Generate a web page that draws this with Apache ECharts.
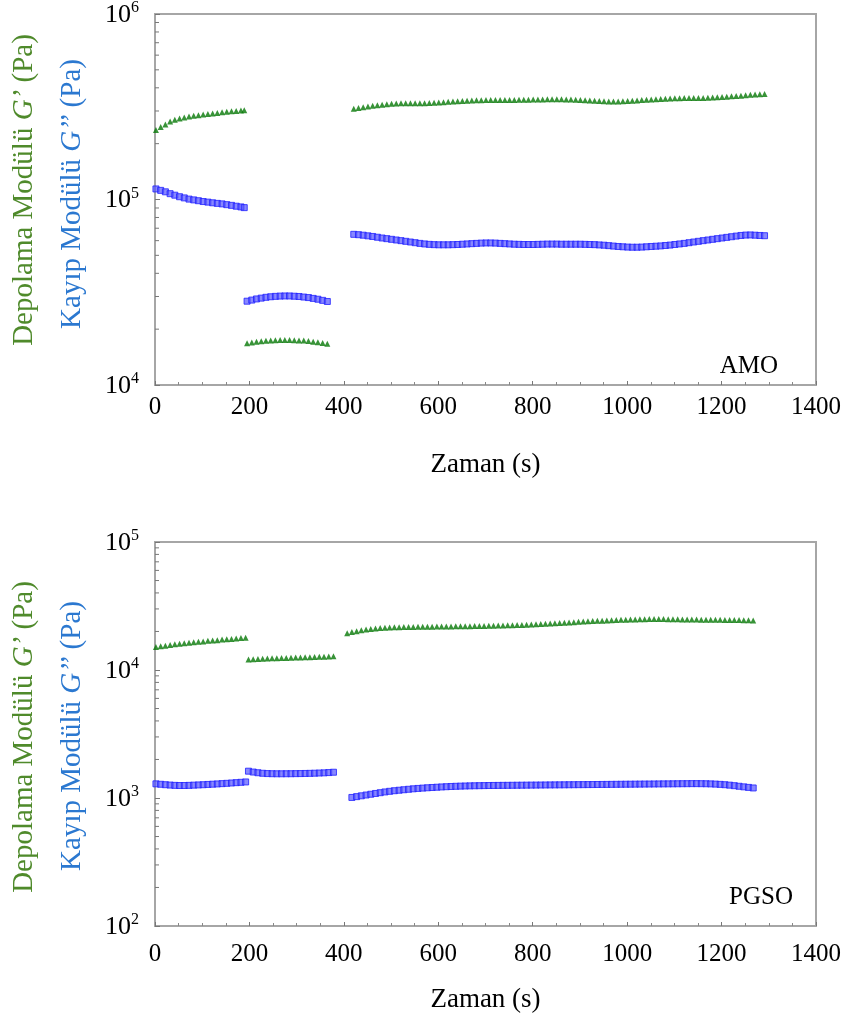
<!DOCTYPE html>
<html><head><meta charset="utf-8">
<script src="https://cdn.jsdelivr.net/npm/echarts@6/dist/echarts.min.js"></script>
<style>html,body{margin:0;padding:0;background:#fff}#c{width:845px;height:1022px}</style>
</head><body><div id="c"></div>
<script>
// ---------- AMO (top chart), G values in kPa ----------
const amoT1 = [2,12,22,32,42,52,62,72,82,92,102,112,122,132,142,152,162,172,182,189];
const amoGp1 = [237,246,254,263,269,273,277,280,283,285,287,289,291,293,295,297,299,300,302,303];
const amoGpp1 = [114,112,110,107.5,105.5,103.5,102,100.5,99.5,98.5,97.5,96.8,96,95.3,94.7,93.8,93,92,91.2,90.4];
const amoT2 = [195,205,215,225,235,245,255,265,275,285,295,305,315,325,335,345,355,365];
const amoGp2 = [16.8,16.95,17.1,17.2,17.3,17.4,17.45,17.5,17.5,17.5,17.45,17.4,17.35,17.25,17.1,17.0,16.85,16.7];
const amoGpp2 = [28.3,28.7,29.1,29.4,29.7,29.9,30.05,30.15,30.2,30.2,30.1,30.0,29.8,29.6,29.3,29.0,28.6,28.2];
const amoT3Start = 421, amoT3Step = 10;
const amoGp3 = [308,311,314,317,320,322,324,326,328,329,330,330,330,330,330,330,331,332,333,334,336,337,339,340,341,342,343,343,344,344,344,344,344,344,344,345,345,345,346,346,346,347,347,347,347,346,346,345,344,343,342,341,340,339,338,338,338,339,340,341,342,344,345,346,347,348,349,350,351,351,352,352,352,352,353,354,355,356,357,358,360,361,363,365,367,368,369,370];
const amoGpp3 = [64.9,64.6,64.2,63.7,63.2,62.6,62.0,61.5,61.0,60.5,60.0,59.5,59.0,58.5,58.0,57.6,57.3,57.1,57.0,57.0,57.0,57.1,57.2,57.4,57.6,57.8,58.0,58.2,58.3,58.3,58.2,58.0,57.8,57.6,57.4,57.3,57.2,57.2,57.2,57.3,57.4,57.5,57.5,57.5,57.4,57.4,57.4,57.4,57.4,57.3,57.2,57.1,56.9,56.7,56.4,56.1,55.8,55.6,55.4,55.3,55.3,55.4,55.6,55.8,56.0,56.2,56.5,56.8,57.2,57.6,58.0,58.5,59.0,59.5,60.0,60.5,61.0,61.5,62.0,62.5,63.0,63.5,64.0,64.3,64.4,64.2,64.0,63.8];

// ---------- PGSO (bottom chart), G' in kPa, G'' in Pa ----------
const pgT1Start = 2, pgT1Step = 10;
const pgGp1 = [15.1,15.3,15.5,15.7,15.9,16.0,16.2,16.3,16.5,16.6,16.7,16.9,17.0,17.1,17.3,17.4,17.5,17.6,17.8,17.9];
const pgGpp1 = [1290,1280,1270,1262,1255,1252,1252,1255,1260,1265,1270,1276,1282,1288,1295,1302,1310,1318,1326,1335];
const pgT2Start = 198, pgT2Step = 10;
const pgGp2 = [12.1,12.15,12.2,12.25,12.3,12.33,12.36,12.4,12.43,12.46,12.5,12.53,12.56,12.6,12.63,12.67,12.7,12.75,12.8];
const pgGpp2 = [1620,1595,1575,1560,1552,1548,1546,1546,1547,1548,1550,1552,1555,1558,1562,1567,1572,1580,1590];
const pgGp3Start = 407, pgGpp3Start = 417, pgT3Step = 10;
const pgGp3 = [19.4,19.8,20.1,20.4,20.7,20.9,21.1,21.3,21.4,21.5,21.6,21.6,21.7,21.7,21.7,21.8,21.8,21.8,21.8,21.9,21.9,21.9,21.9,22.0,22.0,22.0,22.0,22.1,22.1,22.1,22.2,22.2,22.3,22.3,22.4,22.4,22.5,22.5,22.6,22.7,22.8,22.9,23.0,23.1,23.2,23.3,23.4,23.5,23.6,23.8,23.9,24.0,24.1,24.2,24.3,24.4,24.5,24.6,24.7,24.7,24.8,24.8,24.9,24.9,25.0,25.0,25.0,25.0,24.9,24.9,24.9,24.8,24.8,24.8,24.8,24.7,24.7,24.7,24.7,24.7,24.6,24.6,24.6,24.6,24.5,24.5,24.4];
const pgGpp3 = [1010,1025,1040,1055,1070,1085,1100,1115,1128,1140,1150,1160,1170,1180,1188,1195,1202,1208,1214,1220,1225,1230,1234,1238,1241,1244,1246,1248,1250,1252,1253,1254,1255,1256,1257,1258,1259,1260,1261,1262,1263,1264,1265,1266,1267,1268,1269,1270,1271,1272,1273,1274,1275,1276,1277,1278,1279,1280,1281,1282,1283,1284,1285,1286,1287,1288,1289,1290,1291,1292,1293,1294,1295,1295,1294,1292,1289,1284,1278,1270,1260,1248,1235,1222,1210,1198];

// ---------- axes ----------
const xTicks = [0,200,400,600,800,1000,1200,1400];
const amoYExp = [4,5,6];
const pgYExp = [2,3,4,5];
const yTitleGp = ['Depolama Modülü ', 'G’', ' (Pa)'];
const yTitleGpp = ['Kayıp Modülü ', 'G’’', ' (Pa)'];
const panelLabels = ['AMO', 'PGSO'];
const xTitle = 'Zaman (s)';

function pairsList(times, vals, mult){ return vals.map((v,i)=>[times[i], v*mult]); }
function pairsStep(start, step, vals, mult){ return vals.map((v,i)=>[start+i*step, v*mult]); }

const amoGpData = [].concat(pairsList(amoT1,amoGp1,1000), pairsList(amoT2,amoGp2,1000), pairsStep(amoT3Start,amoT3Step,amoGp3,1000));
const amoGppData = [].concat(pairsList(amoT1,amoGpp1,1000), pairsList(amoT2,amoGpp2,1000), pairsStep(amoT3Start,amoT3Step,amoGpp3,1000));
const pgGpData = [].concat(pairsStep(pgT1Start,pgT1Step,pgGp1,1000), pairsStep(pgT2Start,pgT2Step,pgGp2,1000), pairsStep(pgGp3Start,pgT3Step,pgGp3,1000));
const pgGppData = [].concat(pairsStep(pgT1Start,pgT1Step,pgGpp1,1), pairsStep(pgT2Start,pgT2Step,pgGpp2,1), pairsStep(pgGpp3Start,pgT3Step,pgGpp3,1));

function minorLog(exps){ const out=[]; for(let i=0;i<exps.length-1;i++){ for(let k=2;k<=9;k++) out.push([0, k*Math.pow(10,exps[i])]); } return out; }

const FONT = 'Liberation Serif';
const GREEN_T = '#4f8a2b', BLUE_T = '#2b78d0';
const AX = '#a6a6a6';

function yLabel(v){ const e = Math.round(Math.log10(v)); return '{b|10}{s|' + e + '}'; }

function xAxisCfg(gi, margin, gap){
  return {
    type:'value', gridIndex:gi, min:xTicks[0], max:xTicks[xTicks.length-1], interval:200,
    axisLine:{show:true, lineStyle:{color:AX, width:2}},
    axisTick:{show:true, inside:true, length:4, lineStyle:{color:'#777'}},
    minorTick:{show:true, splitNumber:4, length:3, lineStyle:{color:'#888'}},
    splitLine:{show:false},
    axisLabel:{fontFamily:FONT, fontSize:25, color:'#000', margin:margin, formatter:function(v){ return String(v); }},
    name:xTitle, nameLocation:'middle', nameGap:gap,
    nameTextStyle:{fontFamily:FONT, fontSize:27, color:'#000'}
  };
}
function yAxisCfg(gi, exps){
  return {
    type:'log', logBase:10, gridIndex:gi, min:Math.pow(10,exps[0]), max:Math.pow(10,exps[exps.length-1]),
    axisLine:{show:true, lineStyle:{color:AX, width:2}},
    axisTick:{show:true, inside:true, length:5, lineStyle:{color:'#777'}},
    splitLine:{show:false},
    axisLabel:{formatter:yLabel, margin:16, color:'#000',
      rich:{ b:{fontFamily:FONT, fontSize:26, color:'#000', lineHeight:28, verticalAlign:'bottom'},
             s:{fontFamily:FONT, fontSize:16, color:'#000', lineHeight:16, verticalAlign:'top'} } }
  };
}
function titleText(parts, color, x, y){
  return { type:'text', x:x, y:y, rotation:Math.PI/2,
    style:{ text:'{n|'+parts[0]+'}{i|'+parts[1]+'}{n|'+parts[2]+'}', align:'center', verticalAlign:'middle',
      rich:{ n:{fontFamily:FONT, fontSize:29, fill:color, color:color},
             i:{fontFamily:FONT, fontSize:29, fontStyle:'italic', fill:color, color:color} } } };
}

const gpStyle = {symbol:'triangle', symbolSize:6, itemStyle:{color:'#067806'}};
const gppStyle = {symbol:'rect', symbolSize:6, itemStyle:{color:'rgba(80,80,255,0.85)', borderColor:'#2020ff', borderWidth:1}};

function tickSeries(xi, yi, exps){
  return { type:'custom', xAxisIndex:xi, yAxisIndex:yi, silent:true, data:minorLog(exps),
    renderItem:function(params, api){ const p = api.coord([0, api.value(1)]);
      return {type:'line', shape:{x1:p[0], y1:p[1], x2:p[0]+4, y2:p[1]}, style:{stroke:'#777', lineWidth:1}}; } };
}

const chart = echarts.init(document.getElementById('c'), null, {renderer:'canvas'});
chart.setOption({
  animation:false,
  backgroundColor:'#fff',
  grid:[
    {left:155, top:10, right:29, bottom:637, show:true, borderColor:AX, borderWidth:2},
    {left:155, top:542, right:29, bottom:96, show:true, borderColor:AX, borderWidth:2}
  ],
  xAxis:[ xAxisCfg(0, 10, 66), xAxisCfg(1, 16, 60) ],
  yAxis:[ yAxisCfg(0, amoYExp), yAxisCfg(1, pgYExp) ],
  series:[
    Object.assign({type:'scatter', name:'G’', xAxisIndex:0, yAxisIndex:0, data:amoGpData}, gpStyle),
    Object.assign({type:'scatter', name:'G’’', xAxisIndex:0, yAxisIndex:0, data:amoGppData}, gppStyle),
    Object.assign({type:'scatter', name:'G’', xAxisIndex:1, yAxisIndex:1, data:pgGpData}, gpStyle),
    Object.assign({type:'scatter', name:'G’’', xAxisIndex:1, yAxisIndex:1, data:pgGppData}, gppStyle),
    tickSeries(0,0,amoYExp),
    tickSeries(1,1,pgYExp)
  ],
  graphic:[
    titleText(yTitleGp, GREEN_T, 24, 190),
    titleText(yTitleGpp, BLUE_T, 72, 194),
    titleText(yTitleGp, GREEN_T, 24, 737),
    titleText(yTitleGpp, BLUE_T, 72, 736),
    {type:'text', x:778, y:366, style:{text:panelLabels[0], align:'right', verticalAlign:'middle', font:'25px "Liberation Serif"', fill:'#000'}},
    {type:'text', x:793, y:897, style:{text:panelLabels[1], align:'right', verticalAlign:'middle', font:'25px "Liberation Serif"', fill:'#000'}}
  ]
});
</script>
</body></html>
